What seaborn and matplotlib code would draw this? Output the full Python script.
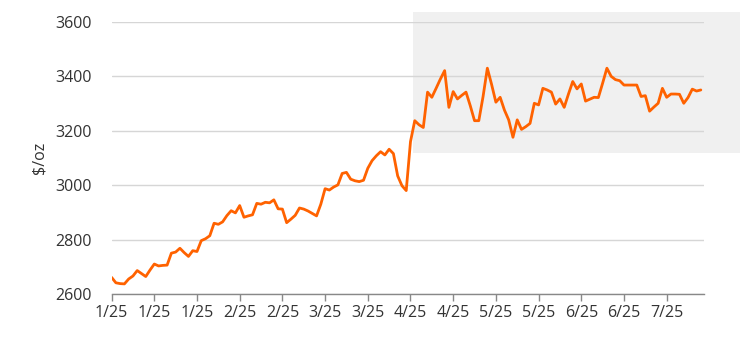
import matplotlib
matplotlib.use("Agg")
import matplotlib.pyplot as plt
import seaborn as sns
import pandas as pd
import numpy as np
from matplotlib.patches import Rectangle

prices = [
    2661, 2641, 2638, 2637, 2655, 2666, 2686, 2675, 2664, 2688,
    2710, 2703, 2705, 2706, 2750, 2754, 2768, 2752, 2738, 2759,
    2756, 2796, 2803, 2814, 2860, 2856, 2865, 2888, 2906, 2898,
    2925, 2882, 2887, 2891, 2933, 2930, 2937, 2935, 2946, 2913,
    2912, 2862, 2875, 2889, 2916, 2912, 2905, 2896, 2887, 2930,
    2987, 2982, 2993, 3001, 3043, 3047, 3022, 3016, 3013, 3018,
    3062, 3090, 3108, 3123, 3111, 3132, 3116, 3034, 2998, 2980,
    3160, 3237, 3222, 3212, 3342, 3323, 3356, 3390, 3421, 3286,
    3344, 3317, 3330, 3342, 3292, 3237, 3237, 3326, 3430, 3370,
    3305, 3323, 3276, 3240, 3176, 3240, 3205, 3215, 3227, 3301,
    3295, 3356, 3350, 3342, 3298, 3317, 3286, 3335, 3381, 3354,
    3372, 3309, 3316, 3323, 3322, 3375, 3430, 3400, 3388, 3384,
    3368, 3368, 3368, 3368, 3326, 3329, 3272, 3287, 3301, 3356,
    3323, 3335, 3335, 3334, 3301, 3322, 3353, 3346, 3350,
]
tick_labels = ["1/25", "1/25", "1/25", "2/25", "2/25", "3/25", "3/25",
               "4/25", "4/25", "5/25", "5/25", "6/25", "6/25", "7/25"]
y_ticks = [2600, 2800, 3000, 3200, 3400, 3600]

df = pd.DataFrame({"idx": np.arange(len(prices)), "price": prices})

sns.set_theme(style="white")
plt.rcParams["font.family"] = ["Open Sans", "DejaVu Sans"]

fig = plt.figure(figsize=(7.44, 3.43), dpi=100)
ax = fig.add_axes([0.150, 0.143, 0.796, 0.793])

# shaded region (extends beyond axes)
ax.add_patch(Rectangle((70.6, 3118), 76.5, 519, facecolor="#f0f0f0",
                       edgecolor="none", clip_on=False, zorder=0.1))

sns.lineplot(data=df, x="idx", y="price", ax=ax, color="#FF6200",
             linewidth=2.0, zorder=3)

ax.set_xlim(0, 138.7)
ax.set_ylim(2600, 3600)
ax.set_yticks(y_ticks)
ax.set_yticklabels([str(v) for v in y_ticks])
ax.set_xticks(np.arange(0, 140, 10))
ax.set_xticklabels(tick_labels)

ax.set_axisbelow(True)
ax.grid(axis="y", color="#d6d6d6", linewidth=1.0)
ax.grid(axis="x", visible=False)
for s in ["left", "right", "top"]:
    ax.spines[s].set_visible(False)
ax.spines["bottom"].set_color("#888888")
ax.spines["bottom"].set_linewidth(1.0)
ax.patch.set_alpha(0)

ax.tick_params(axis="x", direction="out", length=5, width=1, color="#888888",
               labelsize=11.5, labelcolor="#333333", pad=3, bottom=True)
ax.tick_params(axis="y", length=0, labelsize=11.5, labelcolor="#333333", pad=14)

ax.set_xlabel("")
ax.set_ylabel("$/oz", fontsize=11.5, color="#333333", labelpad=6)

fig.savefig("out.png", dpi=100)
